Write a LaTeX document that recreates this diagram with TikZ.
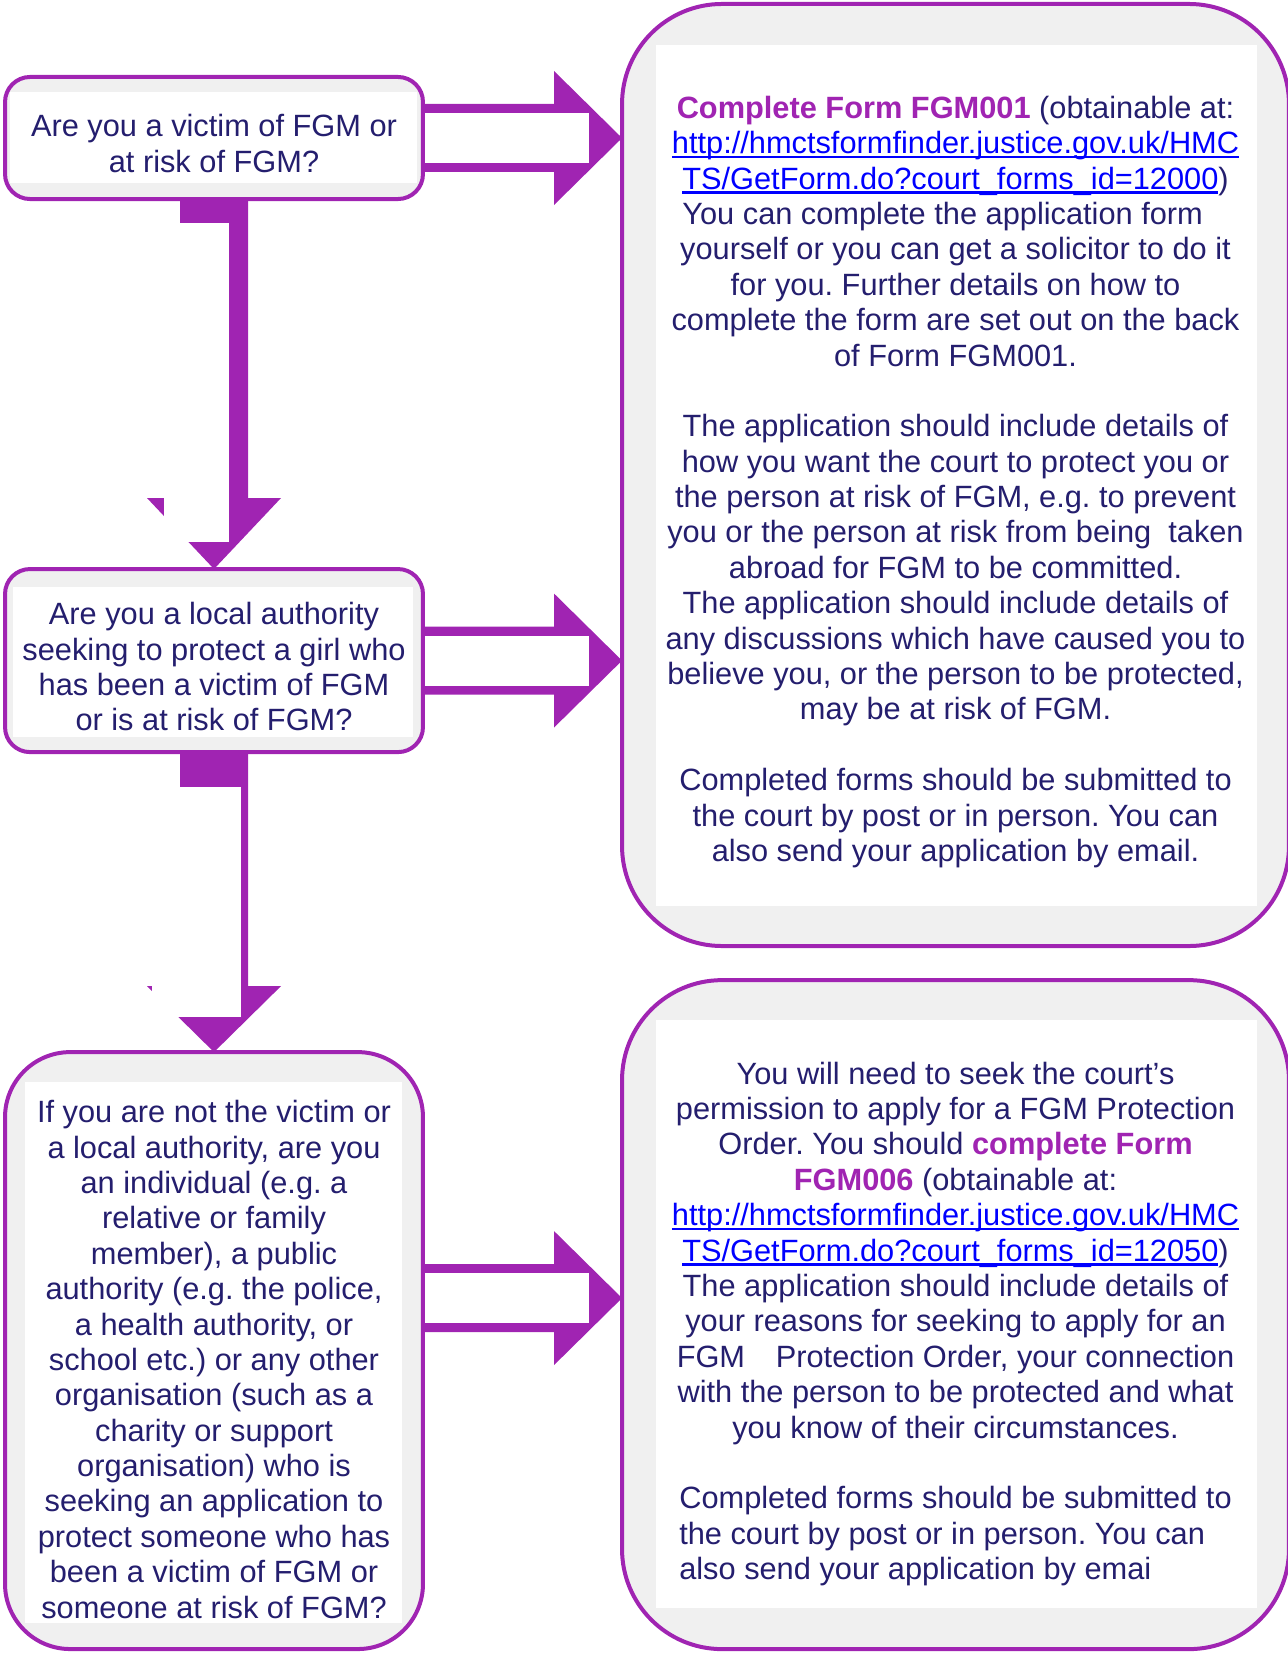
\documentclass[tikz,border=0pt]{standalone}
\usepackage{fontspec}
\setmainfont{Liberation Sans}
\usetikzlibrary{positioning,calc}

\definecolor{fgmpurple}{RGB}{160,36,178}
\definecolor{fgmnavy}{RGB}{36,30,110}
\definecolor{fgmgray}{RGB}{240,240,240}
\definecolor{fgmblue}{RGB}{0,0,255}

\newcommand\fgmbold[1]{\textcolor{fgmpurple}{\textbf{#1}}}
\newcommand\fgmlink[1]{\textcolor{fgmblue}{\setbox0\hbox{#1}%
   \rlap{\rule[-1.75pt]{\wd0}{0.85pt}}\box0}}
\frenchspacing

\begin{document}
\begin{tikzpicture}[
         x=0.39pt, y=-0.39pt,
         qbox/.style = {draw=fgmpurple, fill=fgmgray, line width=1.56pt,
         rounded corners=9.75pt, inner sep=0pt, outer sep=0pt,
         minimum width=163pt},
         fbox/.style = {qbox, rounded corners=39pt, minimum width=260.1pt},
         inset/.style n args = {4}{path picture={\fill[white, sharp corners]
         ($(path picture bounding box.north west)+(#1,-#2)$) rectangle
         ($(path picture bounding box.south east)+(-#3,#4)$);}},
         qtext/.style = {align=center, text=fgmnavy, inner sep=0pt,
         font=\fontsize{12}{13.8}\selectfont}
]

      \useasboundingbox (0,0) rectangle (1288,1653);

      % question boxes
      \node[qbox, minimum height=47.6pt,
         inset={1.95pt}{5.85pt}{2.34pt}{6.24pt}]             (q1) at (214,138) {};
      \node[qbox, minimum height=71.4pt, below=144.3pt of q1,
         inset={3.1pt}{7pt}{3.9pt}{5.85pt}]                  (q2) {};
      \node[qbox, minimum height=232.8pt, rounded corners=25.4pt,
         below=117pt of q2, inset={7.8pt}{11.7pt}{8.2pt}{10.1pt}] (q3) {};

      % form boxes
      \node[fbox, minimum height=367.4pt,
         inset={13.3pt}{16pt}{12.5pt}{15.6pt}]               (f1) at (955.5,475) {};
      \node[fbox, minimum height=260.9pt, below=13.3pt of f1,
         inset={13.3pt}{15.6pt}{12.5pt}{16pt}]               (f2) {};

      % texts
      \node[qtext, yshift=-2.1pt]  (q1t) at (q1) {Are you a victim of FGM or\\
         at risk of FGM?};
      \node[qtext, yshift=-2.4pt]  (q2t) at (q2) {Are you a local authority\\
         seeking to protect a girl who\\has been a victim of FGM\\
         or is at risk of FGM?};
      \node[qtext, yshift=-3.45pt] (q3t) at (q3) {If you are not the victim or\\
         a local authority, are you\\an individual (e.g. a\\
         relative or family\\member), a public\\
         authority (e.g. the police,\\a health authority, or\\
         school etc.) or any other\\organisation (such as a\\
         charity or support\\organisation) who is\\
         seeking an application to\\protect someone who has\\
         been a victim of FGM or\\someone at risk of FGM?};

      \node[qtext, yshift=-2.7pt]  (f1t) at (f1) {\fgmbold{Complete Form FGM001}
         (obtainable at:\\
         \fgmlink{http://hmctsformfinder.justice.gov.uk/HMC}\\
         \fgmlink{TS/GetForm.do?court\_forms\_id=12000})\\
         You can complete the application form\rule{10pt}{0pt}\\
         yourself or you can get a solicitor to do it\\
         for you. Further details on how to\\
         complete the form are set out on the back\\
         of Form FGM001.\\[13.8pt]
         The application should include details of\\
         how you want the court to protect you or\\
         the person at risk of FGM, e.g. to prevent\\
         you or the person at risk from being\ \ taken\\
         abroad for FGM to be committed.\\
         The application should include details of\\
         any discussions which have caused you to\\
         believe you, or the person to be protected,\\
         may be at risk of FGM.\\[13.8pt]
         Completed forms should be submitted to\\
         the court by post or in person. You can\\
         also send your application by email.};

      \node[qtext, yshift=-4.45pt] (f2t) at (f2) {You will need to seek the court’s\\
         permission to apply for a FGM Protection\\
         Order. You should \fgmbold{complete Form}\\
         \fgmbold{FGM006} (obtainable at:\\
         \fgmlink{http://hmctsformfinder.justice.gov.uk/HMC}\\
         \fgmlink{TS/GetForm.do?court\_forms\_id=12050})\\
         The application should include details of\\
         your reasons for seeking to apply for an\\
         FGM\hspace{12pt}Protection Order, your connection\\
         with the person to be protected and what\\
         you know of their circumstances.\\[13.8pt]
         \begin{tabular}[t]{@{}l@{}}Completed forms should be submitted to\\
         the court by post or in person. You can\\
         also send your application by emai\end{tabular}};

      % arrow start points
      \coordinate (a1) at (q1.east);
      \coordinate (a2) at (q2.east);
      \coordinate (a3) at ($(q3.east)+(0,-52.5)$);

      % arrows to the forms
      \foreach \s/\t in {a1/f1, a2/f1, a3/f2} {
         \fill[fgmpurple] ($(\s)+(0,-34)$) -- ($(\t.west |- \s)+(-68,-34)$)
            -- ++(0,-33) -- (\t.west |- \s) -- ($(\t.west |- \s)+(-68,67)$)
            -- ++(0,-33) -- ($(\s)+(0,34)$) -- cycle;
         \fill[white] ($(\s)+(2,-25)$) rectangle ($(\t.west |- \s)+(-33,25)$);
      }

      % arrows down
      \foreach \s/\t/\h/\wl/\wr/\wt/\wb in {q1/q2/71/50/15/24/27, q2/q3/66/62/27/35/35} {
         \fill[fgmpurple] ($(\s.south)+(-34,0)$) -- ($(\t.north)+(-34,-\h)$)
            -- ++(-33,0) -- (\t.north) -- ($(\t.north)+(67,-\h)$)
            -- ++(-33,0) -- ($(\s.south)+(34,0)$) -- cycle;
         \fill[white] ($(\s.south)+(-\wl,\wt)$) rectangle ($(\t.north)+(\wr,-\wb)$);
      }

\end{tikzpicture}
\end{document}
